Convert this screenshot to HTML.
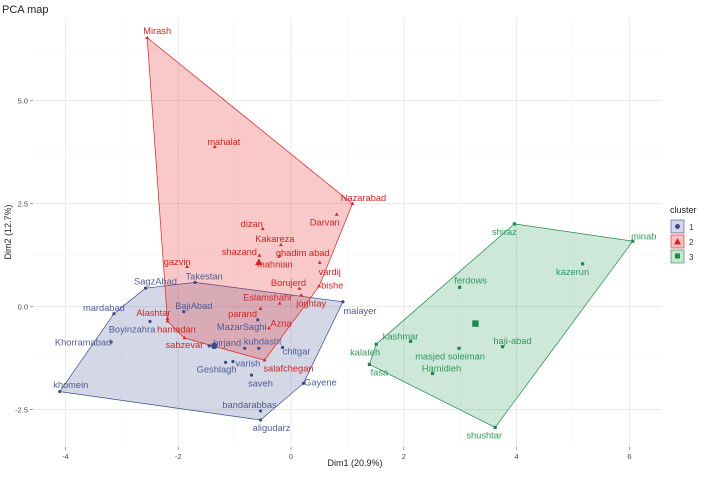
<!DOCTYPE html>
<html><head><meta charset="utf-8"><style>
body{margin:0;background:#fff;font-family:"Liberation Sans",sans-serif}
svg text{font-family:"Liberation Sans",sans-serif}
</style></head><body>
<svg id="chart" width="708" height="474" xmlns="http://www.w3.org/2000/svg">
<text x="2" y="13" font-size="11" fill="#222">PCA map</text>
<g id="grid"></g><g id="hulls"></g><g id="pts"></g><g id="axes"></g>
<text x="355" y="466" font-size="9" fill="#222" text-anchor="middle">Dim1 (20.9%)</text>
<text transform="translate(11,232) rotate(-90)" font-size="9" fill="#222" text-anchor="middle">Dim2 (12.7%)</text>
<g>
<text x="670" y="213" font-size="9" fill="#222">cluster</text>
<rect x="671" y="220" width="13" height="13" fill="#D3D7E6" stroke="#3B4A8C" stroke-width="0.6"/>
<circle cx="677.5" cy="226.5" r="2.5" fill="#3B4A8C"/><text x="689" y="230" font-size="8" fill="#333">1</text>
<rect x="671" y="235" width="13" height="13" fill="#F7C4C4" stroke="#E0201E" stroke-width="0.6"/>
<path d="M677.5,238 L681,244.5 L674,244.5Z" fill="#E0201E"/><text x="689" y="245" font-size="8" fill="#333">2</text>
<rect x="671" y="250" width="13" height="13" fill="#C8E6D2" stroke="#1B8A4C" stroke-width="0.6"/>
<rect x="675" y="253.5" width="5" height="5" fill="#1B8A4C"/><text x="689" y="260" font-size="8" fill="#333">3</text>
</g>
</svg>
<script>
const names1=["SagzAbad","Takestan","mardabad","BajiAbad","Boyinzahra","Khorramabad","khomein","birjand","kuhdasht","kuhdasht2","MazarSaghi","chitgar","varish","Geshlagh","saveh","Gayene","bandarabbas","aligudarz","malayer"];
const dim1_c1=[-2.58,-1.70,-3.14,-1.90,-2.50,-3.19,-4.10,-1.45,-0.82,-0.57,-0.59,-0.15,-1.03,-1.16,-0.70,0.22,-0.54,-0.54,0.92];
const dim2_c1=[0.45,0.59,-0.17,-0.12,-0.36,-0.86,-2.06,-0.95,-1.01,-1.01,-0.32,-0.99,-1.33,-1.35,-1.66,-1.86,-2.53,-2.75,0.12];
const names2=["Mirash","mahalat","Nazarabad","Darvan","dizan","Kakareza","shazand","ghadim abad","mahnian","vardij","gazvin","Borujerd","bishe","joghtay","Eslamshahr","parand","Azna","Alashtar","hamadan","sabzevar","salafchegan"];
const dim1_c2=[-2.55,-1.35,1.09,0.81,-0.50,-0.18,-0.56,-0.20,-0.57,0.51,-1.84,0.15,0.50,0.18,-0.20,-0.54,-0.39,-2.19,-2.19,-1.89,-0.47];
const dim2_c2=[6.53,3.88,2.50,2.24,1.89,1.50,1.24,1.24,1.10,1.07,0.97,0.44,0.50,0.28,0.08,-0.05,-0.52,-0.29,-0.35,-0.76,-1.30];
const names3=["shiraz","minab","kazerun","ferdows","kashmar","kalateh","masjed soleiman","haji-abad","fasa","Hamidieh","shushtar"];
const dim1_c3=[3.96,6.06,5.17,2.99,2.12,1.51,2.98,3.75,1.39,2.51,3.62];
const dim2_c3=[2.01,1.59,1.04,0.47,-0.84,-0.91,-1.01,-0.97,-1.40,-1.62,-2.93];
const centroidX=[-1.36,-0.57,3.27];
const centroidY=[-0.95,1.07,-0.41];
const xTicks=[-4,-2,0,2,4,6];
const yTicks=[-2.5,0,2.5,5];
const yTickLabels=["-2.5","0.0","2.5","5.0"];
// label offsets (px) — layout only
const off1=[[10,-7],[9,-6],[-10,-6],[10,-6],[-18,8],[-28,0],[11,-7],[18,-3],[18,-7],[0,0],[-16,7],[14,4],[15,2],[-9,7],[9,8],[17,-1],[-11,-6],[11,8],[17,9]];
const off2=[[10,-7],[9,-5],[11,-6],[-12,8],[-11,-5],[-6,-6],[-20,-4],[23,-3],[16,3],[10,9],[-10,-5],[-11,-6],[13,-1],[10,8],[-12,-6],[-18,5],[12,-5],[-14,-6],[9,8],[0,7],[24,8]];
const off3=[[-10,8],[11,-5],[-10,8],[11,-7],[-10,-5],[-11,8],[-9,8],[10,-6],[10,8],[9,-5],[-11,8]];
const NS="http://www.w3.org/2000/svg";
const L=33,R=662,T=18,B=447;
const X=v=>291+v*56.4, Y=v=>306.7-v*41.2;
function mk(tag,attrs,parent){const e=document.createElementNS(NS,tag);for(const k in attrs)e.setAttribute(k,attrs[k]);parent.appendChild(e);return e;}
const grid=document.getElementById('grid');
for(let v=-5;v<=6;v++){const x=X(v);if(x<L||x>R)continue;const g=mk('line',{x1:x,x2:x,y1:T,y2:B,stroke:v%2===0?'#e6e6e6':'#f3f3f3','stroke-width':v%2===0?0.8:0.5},grid);}
for(let k=-4;k<=13;k++){const v=k*1.25;const y=Y(v);if(y<T||y>B)continue;const g=mk('line',{x1:L,x2:R,y1:y,y2:y,stroke:k%2===0?'#e6e6e6':'#f3f3f3','stroke-width':k%2===0?0.8:0.5},grid);}
const axes=document.getElementById('axes');
xTicks.forEach(t=>{const x=X(t);mk('line',{x1:x,x2:x,y1:B,y2:B+3,stroke:'#666','stroke-width':0.6},axes);const tx=mk('text',{x:x,y:B+12,'font-size':7.5,fill:'#4d4d4d','text-anchor':'middle'},axes);tx.textContent=t;});
yTicks.forEach((t,i)=>{const y=Y(t);mk('line',{x1:L-3,x2:L,y1:y,y2:y,stroke:'#666','stroke-width':0.6},axes);const tx=mk('text',{x:L-5,y:y+3,'font-size':7.5,fill:'#4d4d4d','text-anchor':'end'},axes);tx.textContent=yTickLabels[i];});
function hull(p){p=p.slice().sort((a,b)=>a[0]-b[0]||a[1]-b[1]);const cr=(o,a,b)=>(a[0]-o[0])*(b[1]-o[1])-(a[1]-o[1])*(b[0]-o[0]);const lo=[],up=[];for(const q of p){while(lo.length>=2&&cr(lo[lo.length-2],lo[lo.length-1],q)<=0)lo.pop();lo.push(q);}for(const q of p.slice().reverse()){while(up.length>=2&&cr(up[up.length-2],up[up.length-1],q)<=0)up.pop();up.push(q);}return lo.slice(0,-1).concat(up.slice(0,-1));}
const clusters=[
 {n:names1,x:dim1_c1,y:dim2_c1,o:off1,fill:'rgba(59,74,140,0.22)',col:'#3B4A8C',lab:'#4F5C9A',shape:'c'},
 {n:names2,x:dim1_c2,y:dim2_c2,o:off2,fill:'rgba(232,40,40,0.25)',col:'#E0201E',lab:'#D42424',shape:'t'},
 {n:names3,x:dim1_c3,y:dim2_c3,o:off3,fill:'rgba(27,150,80,0.22)',col:'#1B8A4C',lab:'#2E9A5C',shape:'s'}];
const hg=document.getElementById('hulls'),pg=document.getElementById('pts');
function mark(shape,x,y,s,col,parent){if(shape==='c')return mk('circle',{cx:x,cy:y,r:s,fill:col},parent);if(shape==='t')return mk('path',{d:`M${x},${y-s*1.3} L${x+s*1.2},${y+s*0.8} L${x-s*1.2},${y+s*0.8}Z`,fill:col},parent);return mk('rect',{x:x-s,y:y-s,width:2*s,height:2*s,fill:col},parent);}
clusters.forEach((c,ci)=>{
 const pts=c.x.map((v,i)=>[X(v),Y(c.y[i])]);
 const h=hull(pts);
 const poly=mk('polygon',{points:h.map(p=>p.join(',')).join(' '),fill:c.fill,stroke:c.col,'stroke-width':0.7},hg);
 
 
 pts.forEach((p,i)=>{
  const m=mark(c.shape,p[0],p[1],1.6,c.col,pg);
  
  
  if(c.n[i]==='kuhdasht2')return;
  const t=mk('text',{x:p[0]+c.o[i][0],y:p[1]+c.o[i][1]+3.2,'font-size':9.3,fill:c.lab,'text-anchor':'middle'},pg);
  t.textContent=c.n[i];
  
  
 });
 const cm=mark(c.shape,X(centroidX[ci]),Y(centroidY[ci]),3.2,c.col,pg);
 
 
});
</script>
</body></html>
